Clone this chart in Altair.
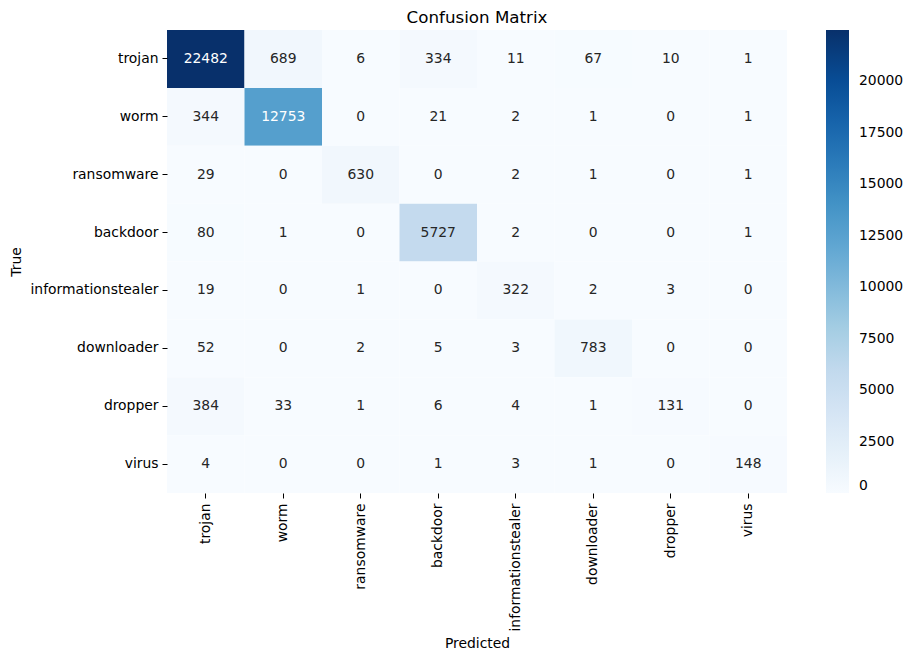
import altair as alt
import pandas as pd

classes = ["trojan", "worm", "ransomware", "backdoor", "informationstealer",
           "downloader", "dropper", "virus"]

row_trojan = [22482, 689, 6, 334, 11, 67, 10, 1]
row_worm = [344, 12753, 0, 21, 2, 1, 0, 1]
row_ransomware = [29, 0, 630, 0, 2, 1, 0, 1]
row_backdoor = [80, 1, 0, 5727, 2, 0, 0, 1]
row_informationstealer = [19, 0, 1, 0, 322, 2, 3, 0]
row_downloader = [52, 0, 2, 5, 3, 783, 0, 0]
row_dropper = [384, 33, 1, 6, 4, 1, 131, 0]
row_virus = [4, 0, 0, 1, 3, 1, 0, 148]

rows = [row_trojan, row_worm, row_ransomware, row_backdoor,
        row_informationstealer, row_downloader, row_dropper, row_virus]

colorbar_ticks = [0, 2500, 5000, 7500, 10000, 12500, 15000, 17500, 20000]
blues = ["#f7fbff", "#deebf7", "#c6dbef", "#9ecae1", "#6baed6",
         "#4292c6", "#2171b5", "#08519c", "#08306b"]

records = []
for t, r in zip(classes, rows):
    for p, v in zip(classes, r):
        records.append({"True": t, "Predicted": p, "value": v})
df = pd.DataFrame(records)

vmax = max(max(r) for r in rows)
FONT = "DejaVu Sans"

base = alt.Chart(df).encode(
    x=alt.X("Predicted:N", sort=classes, title="Predicted",
            axis=alt.Axis(labelAngle=270, domain=False, ticks=True, tickSize=5,
                          tickColor="#000000", labelPadding=5, labelFontSize=13.9,
                          labelColor="#000000", titleFontSize=13.9,
                          titleFontWeight="normal", titleColor="#000000",
                          titleY=150, titleBaseline="middle",
                          labelFont=FONT, titleFont=FONT)),
    y=alt.Y("True:N", sort=classes, title="True",
            axis=alt.Axis(domain=False, ticks=True, tickSize=5, tickColor="#000000",
                          labelPadding=4, labelFontSize=13.9, labelColor="#000000",
                          titleFontSize=13.9, titleFontWeight="normal",
                          titleColor="#000000", titleX=-151, titleBaseline="middle",
                          labelFont=FONT, titleFont=FONT)),
)

heat = base.mark_rect(strokeWidth=0).encode(
    color=alt.Color("value:Q",
                    scale=alt.Scale(domain=[0, vmax], range=blues, nice=False,
                                    zero=True, interpolate="rgb"),
                    legend=alt.Legend(title=None, orient="right", offset=39,
                                      gradientLength=463, gradientThickness=23,
                                      values=colorbar_ticks, labelOverlap=False,
                                      format="d", labelBaseline="middle",
                                      labelFontSize=13.9, labelColor="#000000",
                                      labelFont=FONT, labelOffset=10,
                                      gradientStrokeWidth=0, padding=0))
)

text = base.mark_text(fontSize=13.9, font=FONT).encode(
    text=alt.Text("value:Q", format="d"),
    color=alt.condition(alt.datum.value > 10000, alt.value("#ffffff"),
                        alt.value("#262626")),
)

chart = (heat + text).properties(
    width=620, height=463,
    title=alt.TitleParams("Confusion Matrix", fontSize=16.7, font=FONT,
                          fontWeight="normal", color="#000000", offset=3),
    autosize=alt.AutoSizeParams(type="none"),
    padding={"left": 159, "top": 22, "right": 117, "bottom": 155},
).configure_view(stroke=None).configure_scale(bandPaddingInner=0, bandPaddingOuter=0)

chart.save("out.html", embed_options={"renderer": "svg", "actions": False})
